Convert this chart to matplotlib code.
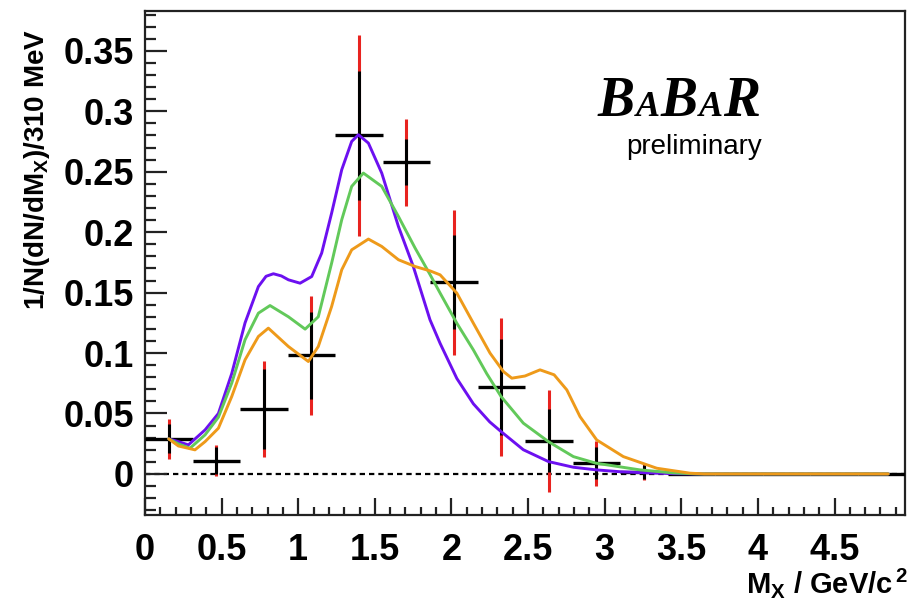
import matplotlib
matplotlib.use("Agg")
import matplotlib.pyplot as plt
from matplotlib.ticker import MultipleLocator, FuncFormatter

plt.rcParams["font.family"] = ["Liberation Sans", "DejaVu Sans"]
plt.rcParams["mathtext.fontset"] = "custom"
plt.rcParams["mathtext.bf"] = "Liberation Sans:bold"
plt.rcParams["mathtext.rm"] = "Liberation Sans:bold"
plt.rcParams["mathtext.default"] = "bf"

# ---- measured spectrum (310 MeV bins) ----
bin_centers = [0.155, 0.465, 0.775, 1.085, 1.395, 1.705, 2.015, 2.325,
               2.635, 2.945, 3.255, 3.565, 3.875, 4.185, 4.495, 4.805]
bin_half_width = 0.155
values = [0.029, 0.011, 0.0536, 0.098, 0.280, 0.258, 0.1587, 0.0718,
          0.0273, 0.0089, 0.0017, 0.0, 0.0, 0.0, 0.0, 0.0]
stat_err = [0.012, 0.011, 0.033, 0.036, 0.053, 0.019, 0.039, 0.040,
            0.026, 0.013, 0.006, 0.0, 0.0, 0.0, 0.0, 0.0]
total_err = [0.0165, 0.013, 0.040, 0.049, 0.083, 0.036, 0.060, 0.057,
             0.042, 0.0185, 0.007, 0.0, 0.0, 0.0, 0.0, 0.0]

# ---- model predictions ----
violet_x = [0.155, 0.218, 0.283, 0.392, 0.479, 0.566, 0.653, 0.740, 0.790,
            0.838, 0.890, 0.936, 1.012, 1.088, 1.153, 1.218, 1.284, 1.349,
            1.393, 1.458, 1.545, 1.654, 1.751, 1.860, 1.926, 2.035, 2.143,
            2.250, 2.324, 2.469, 2.633, 2.796, 2.948, 3.100, 3.275, 3.450,
            3.600, 4.850]
violet_y = [0.029, 0.0267, 0.024, 0.0364, 0.050, 0.083, 0.125, 0.155, 0.1635,
            0.1656, 0.1638, 0.1606, 0.1578, 0.1633, 0.1827, 0.2158, 0.2517, 0.2751,
            0.2806, 0.2737, 0.2489, 0.2047, 0.1716, 0.1275, 0.108, 0.079, 0.058,
            0.043, 0.035, 0.020, 0.0102, 0.0055, 0.0033, 0.0018, 0.0009, 0.0002,
            0.0, 0.0]

green_x = [0.155, 0.218, 0.294, 0.392, 0.479, 0.566, 0.653, 0.740, 0.816,
           0.936, 1.045, 1.131, 1.218, 1.284, 1.349, 1.425, 1.545, 1.654,
           1.763, 1.860, 1.926, 2.035, 2.143, 2.230, 2.324, 2.469, 2.633,
           2.796, 2.942, 3.231, 3.450, 3.600, 4.850]
green_y = [0.029, 0.0248, 0.0213, 0.0323, 0.0469, 0.0751, 0.111, 0.133, 0.1393,
           0.130, 0.1198, 0.130, 0.1744, 0.2103, 0.2379, 0.2489, 0.2379, 0.213,
           0.1868, 0.165, 0.1496, 0.1247, 0.1026, 0.083, 0.064, 0.042, 0.0267,
           0.0143, 0.0089, 0.0033, 0.0008, 0.0, 0.0]

orange_x = [0.155, 0.218, 0.326, 0.392, 0.479, 0.566, 0.653, 0.740, 0.805,
            0.936, 1.066, 1.131, 1.218, 1.284, 1.349, 1.458, 1.545, 1.654,
            1.763, 1.860, 1.926, 2.035, 2.143, 2.252, 2.339, 2.394, 2.480,
            2.578, 2.670, 2.753, 2.839, 2.948, 3.122, 3.340, 3.557, 3.650,
            4.850]
orange_y = [0.029, 0.0231, 0.0199, 0.0267, 0.0378, 0.064, 0.0944, 0.1137, 0.1206,
            0.1054, 0.093, 0.1054, 0.1385, 0.1689, 0.1854, 0.1943, 0.1882, 0.1772,
            0.1716, 0.168, 0.1647, 0.1496, 0.1247, 0.0999, 0.0847, 0.0792, 0.081,
            0.0861, 0.082, 0.0695, 0.0474, 0.0281, 0.0143, 0.0047, 0.0006, 0.0,
            0.0]

W, H = 913, 606
fig = plt.figure(figsize=(W / 100, H / 100), dpi=100)
ax = fig.add_axes([145 / W, 91 / H, 760 / W, 504 / H])

ax.set_xlim(0, 4.96)
ax.set_ylim(-0.034, 0.383)

# zero reference line
ax.axhline(0, color="black", lw=1.6, ls=(0, (2.4, 1.8)), zorder=1)

# error bars: total (red) under statistical (black)
for x, y, s, t in zip(bin_centers, values, stat_err, total_err):
    if t > 0:
        ax.vlines(x, y - t, y + t, color="#e8231f", lw=2.2, zorder=2)
        ax.vlines(x, y - s, y + s, color="black", lw=2.2, zorder=3)
    ax.hlines(y, x - bin_half_width, x + bin_half_width, color="black",
              lw=2.4, zorder=3)

curve_style = dict(lw=2.1, solid_joinstyle="round", solid_capstyle="round")
ax.plot(violet_x, violet_y, color="#6c10f0", zorder=4, **curve_style)
ax.plot(green_x, green_y, color="#62c95a", zorder=5, **curve_style)
ax.plot(orange_x, orange_y, color="#ee9a1a", zorder=6, **curve_style)

# frame and ticks
for side in ax.spines.values():
    side.set_linewidth(1.6)
    side.set_color("#222222")
ax.xaxis.set_major_locator(MultipleLocator(0.5))
ax.xaxis.set_minor_locator(MultipleLocator(0.1))
ax.yaxis.set_major_locator(MultipleLocator(0.05))
ax.yaxis.set_minor_locator(MultipleLocator(0.01))
fmt = FuncFormatter(lambda v, p: "%g" % round(v, 3))
ax.xaxis.set_major_formatter(fmt)
ax.yaxis.set_major_formatter(fmt)
ax.tick_params(axis="both", which="both", direction="in", top=False,
               right=False, width=1.6, color="#222222")
ax.tick_params(axis="y", which="major", length=16, pad=8)
ax.tick_params(axis="y", which="minor", length=8)
ax.tick_params(axis="x", which="major", length=12, pad=13)
ax.tick_params(axis="x", which="minor", length=6)
for lab in ax.get_xticklabels() + ax.get_yticklabels():
    lab.set_fontsize(26)
    lab.set_fontweight("bold")

# axis titles
fig.text(37 / W, 1 - 170 / H, r"1/N(dN/dM$_{X}$)/310 MeV", rotation=90,
         ha="center", va="center", fontsize=20, fontweight="bold")
fig.text(908 / W, 1 - 593 / H, r"M$_{X}$ / GeV/c$^{\,2}$", ha="right",
         va="baseline", fontsize=21, fontweight="bold")

# experiment logo
logo = dict(family="Liberation Serif", weight="bold", style="italic",
            va="baseline")
base = 1 - 116 / H
fig.text(598 / W, base, "B", fontsize=40, **logo)
fig.text(636 / W, base, "A", fontsize=26, **logo)
fig.text(661 / W, base, "B", fontsize=40, **logo)
fig.text(699 / W, base, "A", fontsize=26, **logo)
fig.text(723 / W, base, "R", fontsize=40, **logo)
fig.text(762 / W, 1 - 154 / H, "preliminary", ha="right", va="baseline",
         fontsize=20)

fig.savefig("out.png", dpi=100)
